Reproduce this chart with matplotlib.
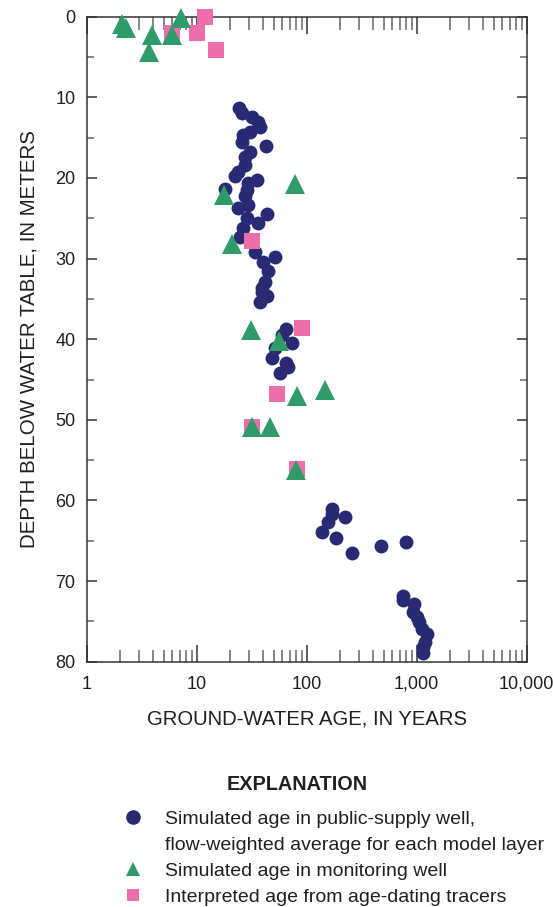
import matplotlib
matplotlib.use('Agg')
import matplotlib.pyplot as plt
from matplotlib.lines import Line2D
from matplotlib.ticker import FixedLocator, FixedFormatter, NullFormatter

plt.rcParams['font.family'] = ['Liberation Sans', 'DejaVu Sans']

# simulated age, public-supply well (years, depth m)
blue_age = [24.1, 25.7, 31.6, 35.9, 37.3, 30.3, 26.2, 25.7, 42.4, 30.3, 27.3, 27.3, 23.6,
            22.2, 35.1, 29.1, 18.0, 28.5, 27.3, 29.1, 23.6, 43.3, 28.5, 35.9, 26.2, 24.6,
            33.6, 51.4, 39.9, 44.2, 41.6, 38.9, 38.9, 43.3, 37.3, 64.5, 59.2, 72.9, 51.4,
            48.0, 64.5, 67.3, 56.7, 169, 169, 221, 155, 139, 183, 257, 471, 795, 746, 746,
            939, 920, 1000, 1040, 1110, 1230, 1190, 1150, 1150]
blue_depth = [11.3, 12.0, 12.4, 13.1, 13.7, 14.3, 14.7, 15.5, 16.0, 16.8, 17.4, 18.4, 19.2,
              19.8, 20.2, 20.6, 21.4, 21.5, 22.3, 23.3, 23.7, 24.5, 25.0, 25.6, 26.2, 27.3,
              29.2, 29.8, 30.4, 31.6, 32.9, 33.6, 34.1, 34.7, 35.4, 38.7, 39.5, 40.5, 41.1,
              42.3, 42.9, 43.5, 44.2, 61.0, 61.7, 62.1, 62.7, 63.9, 64.6, 66.5, 65.7, 65.2,
              71.8, 72.4, 72.9, 73.8, 74.4, 75.1, 76.0, 76.6, 77.5, 78.2, 78.9]

# simulated age, monitoring well
tri_age = [2.08, 2.26, 3.9, 3.66, 5.93, 7.16, 77.9, 17.6, 20.8, 31.0, 55.6, 81.0, 146, 31.7, 46.0, 79.6]
tri_depth = [0.9, 1.45, 2.3, 4.4, 2.3, 0.15, 20.8, 22.1, 28.2, 38.8, 40.2, 47.0, 46.3, 50.9, 50.9, 56.2]

# interpreted age from tracers
sq_age = [12.0, 5.97, 10.1, 15.1, 31.6, 90.0, 53.4, 31.6, 81.0]
sq_depth = [0.08, 2.06, 2.06, 4.17, 27.8, 38.6, 46.8, 50.9, 56.1]

x_ticks = [1, 10, 100, 1000, 10000]
x_labels = ['1', '10', '100', '1,000', '10,000']
y_ticks = [0, 10, 20, 30, 40, 50, 60, 70, 80]

blue = '#282A74'
green = '#2F9B69'
pink = '#EE6EAA'

fig = plt.figure(figsize=(5.53, 9.07), dpi=100)
ax = fig.add_axes([86.7 / 553, 1 - 661.7 / 907, 440 / 553, 645 / 907])

ax.plot(blue_age, blue_depth, 'o', color=blue, ms=10, mew=0, clip_on=False, zorder=3)
ax.plot(sq_age, sq_depth, 's', color=pink, ms=12, mew=0, clip_on=False, zorder=4)
ax.plot(tri_age, tri_depth, '^', color=green, ms=14, mew=0, clip_on=False, zorder=5)

ax.set_xscale('log')
ax.set_xlim(1, 10000)
ax.set_ylim(80, 0)
ax.xaxis.set_major_locator(FixedLocator(x_ticks))
ax.xaxis.set_major_formatter(FixedFormatter(x_labels))
ax.xaxis.set_minor_formatter(NullFormatter())
ax.set_yticks(y_ticks)
ax.set_yticks(range(5, 80, 10), minor=True)

for s in ax.spines.values():
    s.set_color('#333333')
    s.set_linewidth(1.1)

ax.tick_params(axis='both', which='both', direction='in', top=True, right=True,
               colors='#333333', labelcolor='#231f20', labelsize=13)
ax.tick_params(axis='x', which='major', length=12, width=1.1, pad=10)
ax.tick_params(axis='x', which='minor', length=9, width=1.1, color='#666666')
ax.tick_params(axis='y', which='major', length=7, width=1.1, pad=8)
ax.tick_params(axis='y', which='minor', length=5, width=1.1, color='#666666')

ax.set_xlabel('GROUND-WATER AGE, IN YEARS', fontsize=14.6, color='#231f20', labelpad=12)
ax.set_ylabel('DEPTH BELOW WATER TABLE, IN METERS', fontsize=14.8, color='#231f20', labelpad=12)

fig.text(297 / 553, 1 - 784 / 907, 'EXPLANATION', ha='center', va='center',
         fontsize=14.3, fontweight='bold', color='#231f20')

handles = [
    Line2D([], [], ls='none', marker='o', color=blue, ms=10.5, mew=0),
    Line2D([], [], ls='none', marker='none'),
    Line2D([], [], ls='none', marker='^', color=green, ms=10, mew=0),
    Line2D([], [], ls='none', marker='s', color=pink, ms=9, mew=0),
]
labels = ['Simulated age in public-supply well,',
          'flow-weighted average for each model layer',
          'Simulated age in monitoring well',
          'Interpreted age from age-dating tracers']
fig.legend(handles, labels, loc='upper left', bbox_to_anchor=(122 / 553, 1 - 810 / 907),
           frameon=False, fontsize=14, handlelength=1.1, handletextpad=1.1,
           labelspacing=0.43, borderpad=0, borderaxespad=0, labelcolor='#231f20')

plt.savefig('out.png', dpi=100)
